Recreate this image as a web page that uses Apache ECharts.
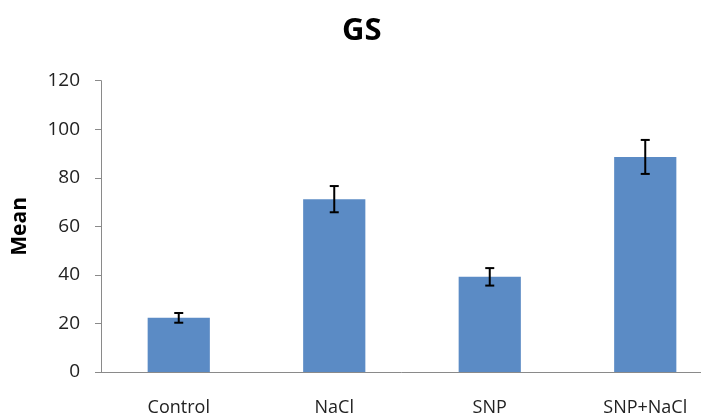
<!DOCTYPE html>
<html>
<head>
<meta charset="utf-8">
<script src="https://cdn.jsdelivr.net/npm/echarts@6/dist/echarts.min.js"></script>
<style>html,body{margin:0;padding:0;background:#fff}#c{width:701px;height:418px}</style>
</head>
<body>
<div id="c"></div>
<script>
const categories = ['Control', 'NaCl', 'SNP', 'SNP+NaCl'];
const means = [22.3, 71.2, 39.2, 88.6];
const errors = [2.0, 5.4, 3.6, 7.0];
const yTicks = { min: 0, max: 120, interval: 20 };

const chart = echarts.init(document.getElementById('c'));
const font = '"Open Sans", sans-serif';
const errData = means.map((m, i) => [i, m - errors[i], m + errors[i]]);

chart.setOption({
  animation: false,
  title: {
    text: 'GS', left: 337, top: 11,
    textStyle: { fontFamily: font, fontSize: 31, fontWeight: 'bold', color: '#000' }
  },
  grid: { left: 101, width: 622, top: 80.7, height: 291.3, outerBoundsMode: 'none', containLabel: false },
  xAxis: {
    type: 'category', data: categories,
    axisLine: { lineStyle: { color: '#8a8a8a', width: 1 } },
    axisTick: { length: 8, lineStyle: { color: '#8a8a8a' } },
    axisLabel: { fontFamily: font, fontSize: 18, color: '#222', margin: 27 }
  },
  yAxis: {
    type: 'value', min: yTicks.min, max: yTicks.max, interval: yTicks.interval,
    name: 'Mean', nameLocation: 'middle', nameGap: 70,
    nameTextStyle: { fontFamily: font, fontSize: 21, fontWeight: 'bold', color: '#000' },
    axisLine: { show: true, lineStyle: { color: '#8a8a8a', width: 1 } },
    axisTick: { show: true, length: 6, lineStyle: { color: '#8a8a8a' } },
    splitLine: { show: false },
    axisLabel: { fontFamily: font, fontSize: 19, color: '#222', margin: 21 }
  },
  series: [{
    type: 'bar', data: means, barWidth: '40%',
    itemStyle: { color: '#5B8BC5' }
  }, {
    type: 'custom', data: errData, z: 5,
    renderItem: function (params, api) {
      const i = api.value(0);
      const lo = api.coord([i, api.value(1)]);
      const hi = api.coord([i, api.value(2)]);
      const w = 4.5;
      const st = { stroke: '#000', lineWidth: 2 };
      return {
        type: 'group',
        children: [
          { type: 'line', shape: { x1: hi[0], y1: hi[1], x2: lo[0], y2: lo[1] }, style: st },
          { type: 'line', shape: { x1: hi[0] - w, y1: hi[1], x2: hi[0] + w, y2: hi[1] }, style: st },
          { type: 'line', shape: { x1: lo[0] - w, y1: lo[1], x2: lo[0] + w, y2: lo[1] }, style: st }
        ]
      };
    }
  }]
});
</script>
</body>
</html>
